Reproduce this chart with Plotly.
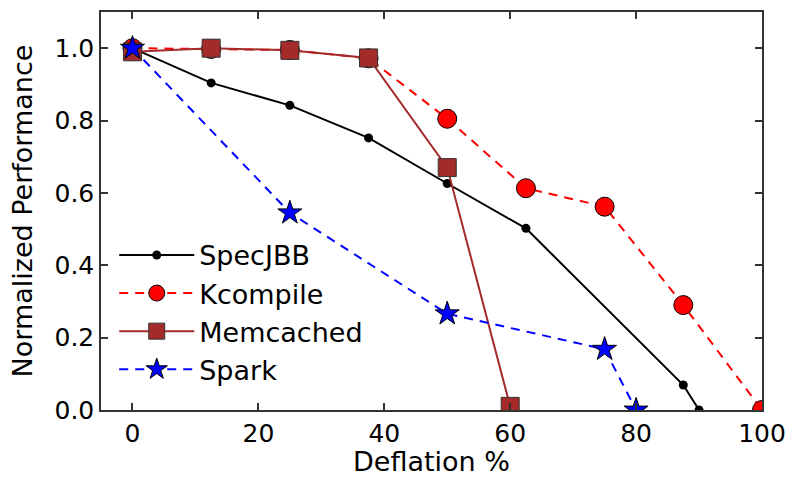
import plotly.graph_objects as go

spec_x = [0, 12.5, 25, 37.5, 50, 62.5, 87.5, 90]
spec_y = [1.0, 0.904, 0.842, 0.752, 0.626, 0.502, 0.069, 0.0]

kc_x = [0, 12.5, 25, 37.5, 50, 62.5, 75, 87.5, 100]
kc_y = [1.0, 0.998, 0.995, 0.972, 0.805, 0.613, 0.562, 0.29, 0.0]

mem_x = [0, 12.5, 25, 37.5, 50, 60]
mem_y = [0.99, 1.0, 0.994, 0.973, 0.67, 0.01]

spark_x = [0, 25, 50, 75, 80]
spark_y = [1.0, 0.545, 0.266, 0.168, 0.0]

x_ticks = [0, 20, 40, 60, 80, 100]
y_ticks = [0.0, 0.2, 0.4, 0.6, 0.8, 1.0]
y_tick_labels = ["0.0", "0.2", "0.4", "0.6", "0.8", "1.0"]

FONT = "DejaVu Sans"

fig = go.Figure()
fig.add_trace(go.Scatter(x=spec_x, y=spec_y, name="SpecJBB", mode="lines+markers",
                         line=dict(color="black", width=2),
                         marker=dict(symbol="circle", size=9, color="black")))
fig.add_trace(go.Scatter(x=kc_x, y=kc_y, name="Kcompile", mode="lines+markers",
                         line=dict(color="red", width=2, dash="9px,7px"),
                         marker=dict(symbol="circle", size=19, color="red",
                                     line=dict(color="black", width=1))))
fig.add_trace(go.Scatter(x=mem_x, y=mem_y, name="Memcached", mode="lines+markers",
                         line=dict(color="#A52A2A", width=2),
                         marker=dict(symbol="square", size=18, color="#A52A2A",
                                     line=dict(color="#333333", width=1))))
fig.add_trace(go.Scatter(x=spark_x, y=spark_y, name="Spark", mode="lines+markers",
                         line=dict(color="blue", width=2, dash="9px,7px"),
                         marker=dict(symbol="star", size=18, color="blue",
                                     line=dict(color="black", width=1))))

axis_common = dict(showgrid=False, zeroline=False, showline=True, linecolor="#333333",
                   linewidth=1.5, mirror="ticks", ticks="inside", ticklen=7,
                   tickcolor="#333333", tickwidth=1.5, automargin=False,
                   tickfont=dict(family=FONT, size=25, color="black"))

fig.update_xaxes(range=[-5, 100], tickvals=x_ticks,
                 title=dict(text="Deflation %", font=dict(family=FONT, size=27, color="black"), standoff=13),
                 **axis_common)
fig.update_yaxes(range=[0, 1.1], tickvals=y_ticks, ticktext=y_tick_labels,
                 title=dict(text="Normalized Performance", font=dict(family=FONT, size=27, color="black"), standoff=14),
                 **axis_common)

fig.update_layout(
    width=788, height=477,
    margin=dict(l=101, r=26, t=12, b=67),
    plot_bgcolor="white", paper_bgcolor="white",
    font=dict(family=FONT, color="black"),
    legend=dict(x=0.02, y=0.45, xanchor="left", yanchor="top",
                bgcolor="rgba(0,0,0,0)", font=dict(family=FONT, size=27, color="black"),
                itemwidth=75, tracegroupgap=0),
    showlegend=True,
)

fig.write_html("out.html", config={"displayModeBar": False},
               post_script="document.body.style.margin='0';")
